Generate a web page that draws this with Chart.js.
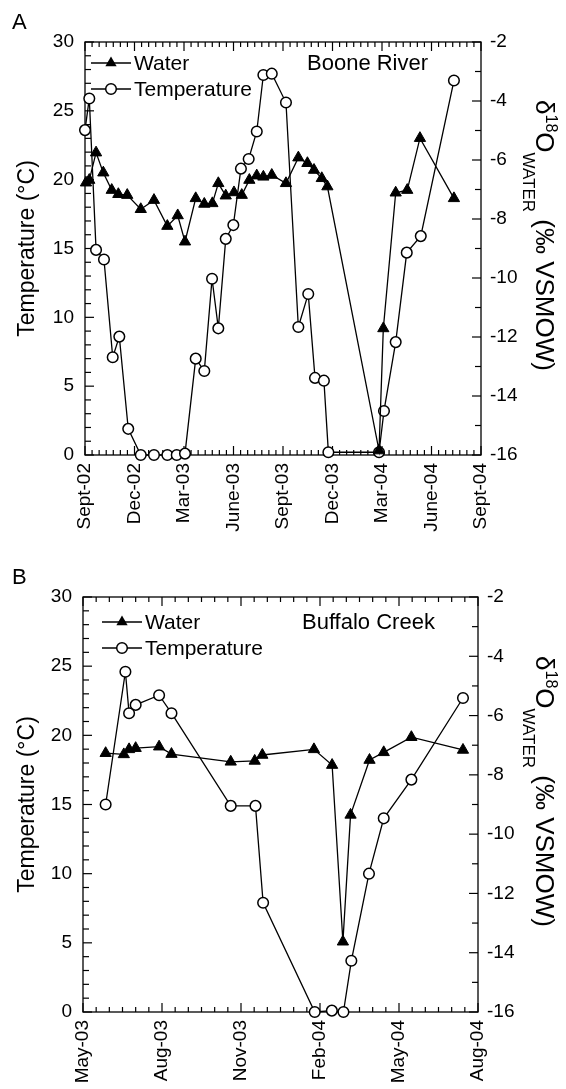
<!DOCTYPE html>
<html>
<head>
<meta charset="utf-8">
<script src="https://cdn.jsdelivr.net/npm/chart.js@4.4.1/dist/chart.umd.min.js"></script>
<style>
  html, body { margin: 0; padding: 0; background: #fff; }
  #wrap { position: relative; width: 566px; height: 1089px; }
  canvas { position: absolute; left: 0; }
</style>
</head>
<body>
<div id="wrap">
  <canvas id="chartA" width="566" height="545" style="top:0"></canvas>
  <canvas id="chartB" width="566" height="544" style="top:545px"></canvas>
</div>
<script>
// tick labels, one every 3 months
const booneTickLabels = ["Sept-02", "Dec-02", "Mar-03", "June-03", "Sept-03", "Dec-03", "Mar-04", "June-04", "Sept-04"];
const buffaloTickLabels = ["May-03", "Aug-03", "Nov-03", "Feb-04", "May-04", "Aug-04"];

// sample dates in months after the first tick (Sept-02 / May-03)
const booneTempMonth = [0.00, 0.26, 0.67, 1.15, 1.68, 2.08, 2.62, 3.38, 4.18, 4.99, 5.56, 6.06, 6.71, 7.23, 7.70, 8.08, 8.53, 8.99, 9.45, 9.92, 10.41, 10.81, 11.32, 12.18, 12.93, 13.53, 13.94, 14.48, 14.75, 17.82, 18.12, 18.83, 19.50, 20.35, 22.36];
const booneTemp = [23.6, 25.9, 14.9, 14.2, 7.1, 8.6, 1.9, 0, 0, 0, 0, 0.1, 7.0, 6.1, 12.8, 9.2, 15.7, 16.7, 20.8, 21.5, 23.5, 27.6, 27.7, 25.6, 9.3, 11.7, 5.6, 5.4, 0.2, 0.2, 3.2, 8.2, 14.7, 15.9, 27.2];
const booneWaterMonth = [0.06, 0.26, 0.67, 1.11, 1.62, 2.02, 2.56, 3.38, 4.18, 4.99, 5.62, 6.06, 6.71, 7.23, 7.72, 8.08, 8.53, 9.03, 9.50, 9.96, 10.41, 10.81, 11.32, 12.18, 12.93, 13.48, 13.88, 14.35, 14.69, 17.82, 18.08, 18.83, 19.53, 20.30, 22.36];
const booneWater = [-6.77, -6.68, -5.75, -6.43, -7.02, -7.16, -7.19, -7.67, -7.36, -8.24, -7.88, -8.77, -7.30, -7.49, -7.47, -6.79, -7.21, -7.10, -7.19, -6.68, -6.53, -6.57, -6.51, -6.79, -5.92, -6.11, -6.34, -6.62, -6.90, -15.85, -11.71, -7.11, -7.02, -5.26, -7.30];

const buffaloTempMonth = [0.86, 1.61, 1.75, 2.00, 2.89, 3.36, 5.61, 6.55, 6.84, 8.80, 9.45, 9.89, 10.19, 10.86, 11.42, 12.47, 14.43];
const buffaloTemp = [15.0, 24.6, 21.6, 22.2, 22.9, 21.6, 14.9, 14.9, 7.9, 0, 0.1, 0, 3.7, 10.0, 14.0, 16.8, 22.7];
const buffaloWaterMonth = [0.86, 1.55, 1.75, 2.00, 2.89, 3.36, 5.61, 6.52, 6.81, 8.77, 9.46, 9.87, 10.16, 10.88, 11.42, 12.47, 14.43];
const buffaloWater = [-7.27, -7.31, -7.14, -7.10, -7.05, -7.30, -7.56, -7.53, -7.33, -7.14, -7.67, -13.63, -9.35, -7.50, -7.24, -6.73, -7.16];

const FONT = '"Liberation Sans", Arial, Helvetica, sans-serif';
const pts = (xs, ys) => xs.map((x, i) => ({ x: x, y: ys[i] }));

const drawMarker = (ctx, style, x, y) => {
  ctx.beginPath();
  if (style === "triangle") {
    const r = 6.5;
    for (let k = 0; k < 3; k++) {
      const a = k * 2 * Math.PI / 3;
      const px = x + Math.sin(a) * r, py = y - Math.cos(a) * r;
      k ? ctx.lineTo(px, py) : ctx.moveTo(px, py);
    }
    ctx.closePath();
    ctx.fillStyle = "#000";
    ctx.fill();
  } else {
    ctx.arc(x, y, 5.3, 0, Math.PI * 2);
    ctx.fillStyle = "#fff";
    ctx.fill();
    ctx.lineWidth = 1.5;
    ctx.strokeStyle = "#000";
    ctx.stroke();
  }
};

const line = (ctx, x1, y1, x2, y2) => {
  ctx.beginPath();
  ctx.moveTo(x1, y1);
  ctx.lineTo(x2, y2);
  ctx.stroke();
};

// frame, inward ticks, legend and labels
const boxPlugin = {
  id: "box",
  beforeDatasetsDraw(chart, args, opts) {
    const { ctx, chartArea: a, scales } = chart;
    ctx.save();
    ctx.strokeStyle = "#000";
    ctx.lineWidth = 1.3;
    ctx.strokeRect(a.left, a.top, a.right - a.left, a.bottom - a.top);
    ctx.lineWidth = 1.2;

    const xs = scales.x;
    const n = Math.round(xs.max / 3) * opts.perMajor;
    for (let i = 0; i <= n; i++) {
      const px = xs.getPixelForValue(i * 3 / opts.perMajor);
      const len = i % opts.perMajor === 0 ? 9 : 5;
      line(ctx, px, a.bottom, px, a.bottom - len);
      line(ctx, px, a.top, px, a.top + len);
    }
    for (let v = 0; v <= 30; v++) {
      const py = scales.y.getPixelForValue(v);
      line(ctx, a.left, py, a.left + (v % 5 === 0 ? 9 : 6), py);
    }
    for (let v = -16; v <= -2; v++) {
      const py = scales.y1.getPixelForValue(v);
      line(ctx, a.right, py, a.right - (v % 2 === 0 ? 9 : 6), py);
    }
    ctx.restore();
  },
  afterDraw(chart, args, opts) {
    const { ctx, chartArea: a } = chart;
    ctx.save();
    ctx.fillStyle = "#000";
    ctx.strokeStyle = "#000";

    // legend
    chart.data.datasets.forEach((ds, i) => {
      const y = opts.legendY[i];
      const x0 = opts.legendX;
      ctx.lineWidth = 1.3;
      line(ctx, x0, y, x0 + 40, y);
      drawMarker(ctx, ds.pointStyle, x0 + 20, y);
      ctx.fillStyle = "#000";
      ctx.font = "21px " + FONT;
      ctx.textBaseline = "middle";
      ctx.textAlign = "left";
      ctx.fillText(ds.label, x0 + 43, y + 1);
    });

    // site name and panel letter
    ctx.font = "22px " + FONT;
    ctx.fillText(opts.site, opts.siteX, opts.legendY[0] + 1);
    ctx.fillText(opts.letter, 12, opts.letterY);

    // left title
    const yc = (a.top + a.bottom) / 2;
    ctx.save();
    ctx.translate(28, yc);
    ctx.rotate(-Math.PI / 2);
    ctx.textAlign = "center";
    ctx.font = "23px " + FONT;
    ctx.fillText("Temperature (\u00B0C)", 0, 0);
    ctx.restore();

    // right title: delta 18 O WATER (per mil VSMOW)
    const parts = [
      { t: "\u03B4", size: 26, shift: 0 },
      { t: "18", size: 16, shift: 10 },
      { t: "O", size: 26, shift: 0 },
      { t: "WATER", size: 17, shift: -13 },
      { t: " (\u2030 VSMOW)", size: 26, shift: 0 }
    ];
    let total = 0;
    parts.forEach((p) => {
      ctx.font = p.size + "px " + FONT;
      p.w = ctx.measureText(p.t).width;
      total += p.w;
    });
    ctx.save();
    ctx.translate(536, yc - 13);
    ctx.rotate(Math.PI / 2);
    ctx.textAlign = "left";
    ctx.textBaseline = "alphabetic";
    let x = -total / 2;
    parts.forEach((p) => {
      ctx.font = p.size + "px " + FONT;
      ctx.fillText(p.t, x, -p.shift);
      x += p.w;
    });
    ctx.restore();
    ctx.restore();
  }
};

const makeChart = (id, area, tickLabels, temp, water, extra) => {
  const canvas = document.getElementById(id);
  const W = canvas.width, H = canvas.height;
  const tickFont = { family: FONT, size: 19 };
  return new Chart(canvas, {
    type: "scatter",
    data: {
      datasets: [
        {
          label: "Water",
          data: water,
          yAxisID: "y1",
          showLine: true,
          borderColor: "#000",
          borderWidth: 1.3,
          pointStyle: "triangle",
          pointRadius: 6.5,
          pointBackgroundColor: "#000",
          pointBorderColor: "#000",
          pointBorderWidth: 1,
          clip: false
        },
        {
          label: "Temperature",
          data: temp,
          yAxisID: "y",
          showLine: true,
          borderColor: "#000",
          borderWidth: 1.3,
          pointStyle: "circle",
          pointRadius: 5.3,
          pointBackgroundColor: "#fff",
          pointBorderColor: "#000",
          pointBorderWidth: 1.5,
          clip: false
        }
      ]
    },
    options: {
      responsive: false,
      animation: false,
      devicePixelRatio: 1,
      layout: { padding: { top: area.top, left: 0, right: 0, bottom: 0 } },
      scales: {
        x: {
          type: "linear",
          position: "bottom",
          min: 0,
          max: (tickLabels.length - 1) * 3,
          grid: { display: false, drawTicks: false },
          border: { display: false },
          ticks: {
            stepSize: 3,
            autoSkip: false,
            maxRotation: 90,
            minRotation: 90,
            padding: 8,
            color: "#000",
            font: tickFont,
            callback: (v) => tickLabels[Math.round(v / 3)]
          },
          afterFit: (s) => { s.height = H - area.bottom; }
        },
        y: {
          position: "left",
          min: 0,
          max: 30,
          grid: { display: false, drawTicks: false },
          border: { display: false },
          ticks: { stepSize: 5, padding: 11, color: "#000", font: tickFont },
          afterFit: (s) => { s.width = area.left; }
        },
        y1: {
          position: "right",
          min: -16,
          max: -2,
          grid: { display: false, drawTicks: false },
          border: { display: false },
          ticks: { stepSize: 2, padding: 9, color: "#000", font: tickFont },
          afterFit: (s) => { s.width = W - area.right; }
        }
      },
      plugins: {
        legend: { display: false },
        tooltip: { enabled: false },
        box: extra
      }
    },
    plugins: [boxPlugin]
  });
};

makeChart("chartA", { left: 85, right: 481, top: 42, bottom: 455 }, booneTickLabels,
  pts(booneTempMonth, booneTemp), pts(booneWaterMonth, booneWater),
  { perMajor: 7, legendX: 91, legendY: [63, 89], site: "Boone River", siteX: 307, letter: "A", letterY: 23 });

makeChart("chartB", { left: 83, right: 478, top: 52, bottom: 467 }, buffaloTickLabels,
  pts(buffaloTempMonth, buffaloTemp), pts(buffaloWaterMonth, buffaloWater),
  { perMajor: 6, legendX: 102, legendY: [77, 103], site: "Buffalo Creek", siteX: 302, letter: "B", letterY: 33 });
</script>
</body>
</html>
